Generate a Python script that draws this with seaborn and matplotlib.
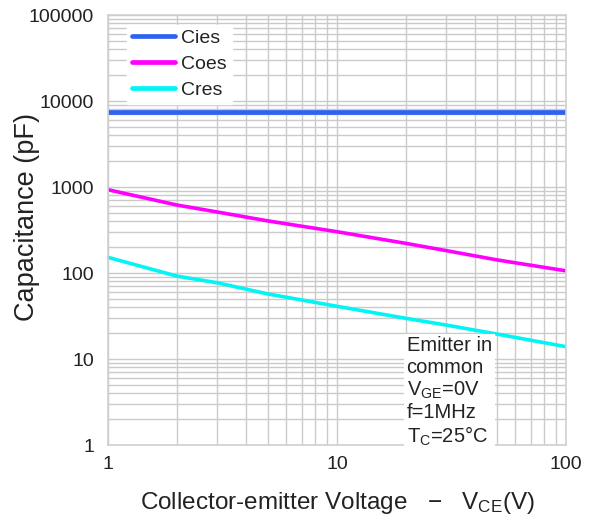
import numpy as np
import pandas as pd
import matplotlib
matplotlib.use("Agg")
import matplotlib.pyplot as plt
import seaborn as sns
from matplotlib.ticker import FixedLocator, FixedFormatter, LogLocator, NullFormatter
from matplotlib.lines import Line2D

# Data
vce = [1, 2, 3, 5, 10, 20, 30, 50, 100]
cies = [7450, 7450, 7450, 7450, 7450, 7450, 7450, 7450, 7450]
coes = [930, 617, 512, 403, 302, 221, 182, 142, 106]
cres = [152, 92, 77, 57, 41, 29.7, 24.8, 19.5, 13.9]
series_names = ["Cies", "Coes", "Cres"]
colors = ["#2f62f2", "#ff00ff", "#00f5f5"]
x_ticks = [1, 10, 100]
x_tick_labels = ["1", "10", "100"]
y_ticks = [1, 10, 100, 1000, 10000, 100000]
y_tick_labels = ["1", "10", "100", "1000", "10000", "100000"]

df = pd.DataFrame({
    "VCE": vce * 3,
    "C": cies + coes + cres,
    "series": [series_names[0]] * len(vce) + [series_names[1]] * len(vce) + [series_names[2]] * len(vce),
})

sns.set_theme(style="white")
plt.rcParams["font.family"] = ["Liberation Sans", "DejaVu Sans"]
plt.rcParams["mathtext.default"] = "regular"

fig = plt.figure(figsize=(5.97, 5.18), dpi=100)
ax = fig.add_axes([108 / 597, 1 - 445 / 518, (566 - 108) / 597, (445 - 15) / 518])

sns.lineplot(data=df, x="VCE", y="C", hue="series", hue_order=series_names,
             palette=colors, ax=ax, linewidth=2.6, legend=False)
for ln, lw in zip(ax.get_lines(), [3.4, 2.6, 2.6]):
    ln.set_linewidth(lw)
    ln.set_solid_capstyle("butt")

ax.set_xscale("log")
ax.set_yscale("log")
ax.set_xlim(1, 100)
ax.set_ylim(1, 100000)

ax.xaxis.set_major_locator(FixedLocator(x_ticks))
ax.xaxis.set_major_formatter(FixedFormatter(x_tick_labels))
ax.yaxis.set_major_locator(FixedLocator(y_ticks))
ax.yaxis.set_major_formatter(FixedFormatter(y_tick_labels))
ax.xaxis.set_minor_locator(LogLocator(base=10, subs=np.arange(2, 10)))
ax.yaxis.set_minor_locator(LogLocator(base=10, subs=np.arange(2, 10), numticks=20))
ax.xaxis.set_minor_formatter(NullFormatter())
ax.yaxis.set_minor_formatter(NullFormatter())

ax.grid(True, which="both", color="#cacaca", linewidth=1.0)
ax.set_axisbelow(True)
ax.tick_params(which="both", length=0, labelsize=14, labelcolor="#222222")
ax.tick_params(axis="x", pad=8)
ax.tick_params(axis="y", pad=10)
for s in ax.spines.values():
    s.set_color("#d0d0d0")
    s.set_linewidth(1.2)

ax.set_xlabel(r"Collector-emitter Voltage   $-$   V$_{CE}$(V)", fontsize=17.5, color="#222222", labelpad=12)
ax.set_ylabel("Capacitance (pF)", fontsize=19.5, color="#222222")
ax.yaxis.set_label_coords(-0.148, 0.53)

# Legend
handles = [Line2D([], [], color=c, linewidth=3.4) for c in colors]
leg = ax.legend(handles, series_names, loc="upper left", bbox_to_anchor=(0.02, 1.0),
                frameon=True, fontsize=14, handlelength=2.2, handletextpad=0.35,
                labelspacing=0.42, borderpad=0.25, fancybox=False)
leg.get_frame().set_facecolor("white")
leg.get_frame().set_edgecolor("white")
leg.get_frame().set_alpha(1.0)
for t in leg.get_texts():
    t.set_color("#222222")

# Conditions text box
ax.text(0.652, -0.008,
        "Emitter in\ncommon\nV$_{GE}$=0V\nf=1MHz\nT$_{C}$=25°C",
        transform=ax.transAxes, fontsize=14.5, color="#222222", ha="left", va="bottom",
        linespacing=1.17, zorder=5,
        bbox=dict(facecolor="white", edgecolor="none", pad=2))

fig.savefig("out.png", dpi=100)
